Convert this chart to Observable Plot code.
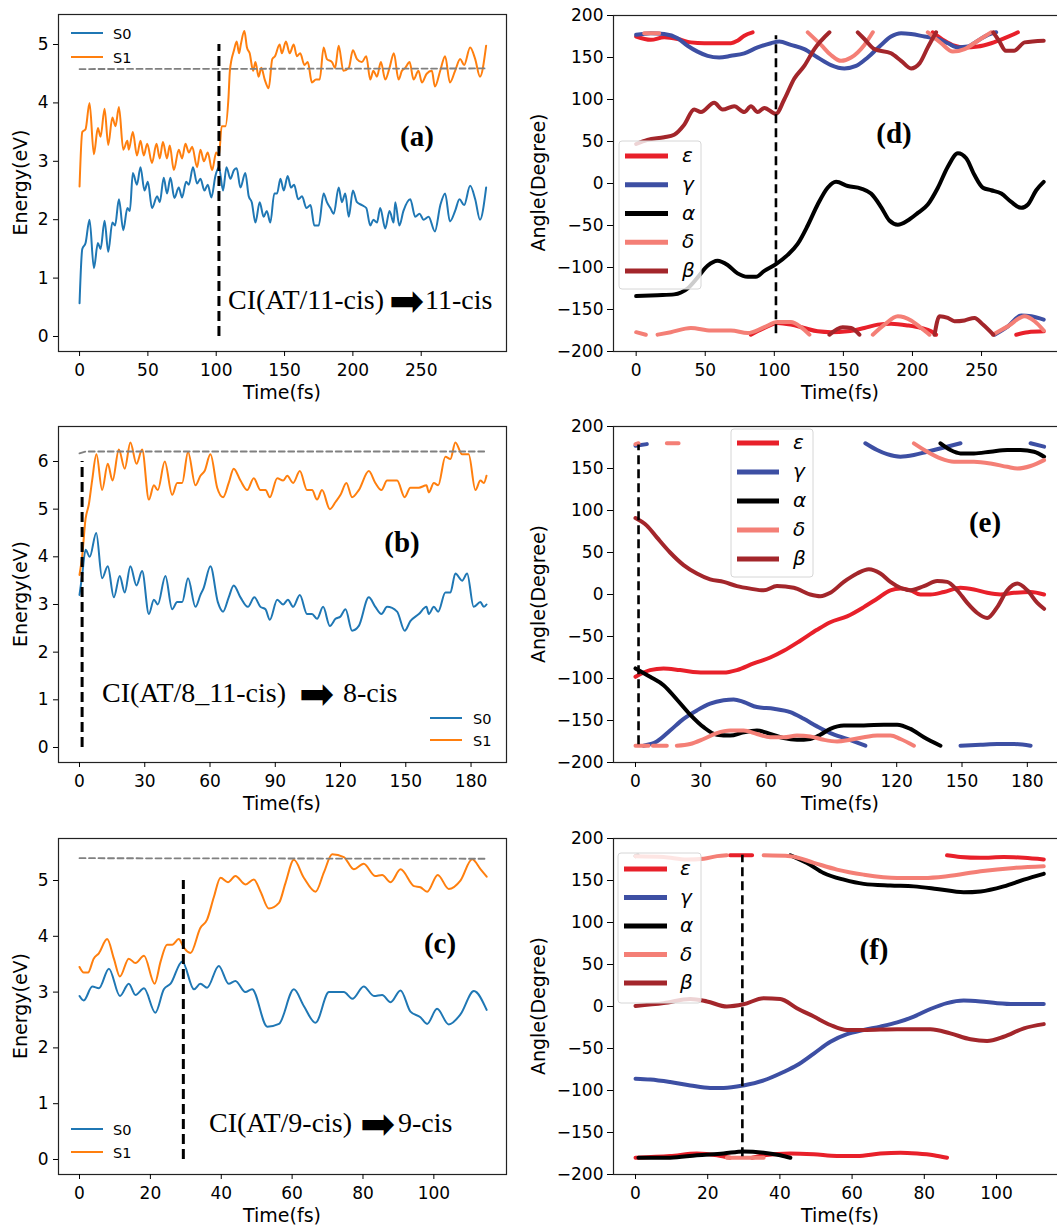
<!DOCTYPE html>
<html><head><meta charset="utf-8">
<script src="https://cdn.jsdelivr.net/npm/d3@7"></script>
<script src="https://cdn.jsdelivr.net/npm/@observablehq/plot@0.6"></script>
<style>
html,body{margin:0;padding:0;background:#fff;overflow:hidden}
#page{position:relative;width:1057px;height:1225px;overflow:hidden;background:#fff}
</style></head><body><div id="page"></div>
<script>
// ---------------- Energy panels: (a) ----------------
const aT1 = [0,2,4.4,7.3,10.5,13.4,15.4,18.3,21,24,26.3,28.8,32,35,36,39,42,44.6,47,49.5,53,56.3,58.7,61,64,66,69,72.6,75,77.5,80,82.4,86,88.5,91,93.8,97,100,102,104,106.7,109,110,113,115,116.7,118,120.6,122.5,124.5,127,128.7,131,133,135.5,138.4,141,143,146.4,148,151,153.8,156.7,159,161.5,164.5,167,170,173,175.7,178.6,181,184.7,187,189.6,193,197,200,203,206.6,209.8,212.7,215,217.6,220.5,223.7,226.8,230,233.4,235.9,238.3,241.5,244.4,248,250.5,254,257.8,260,263.9,267.5,271,274.8,278.5,281.4,285.8,289.5,293,297.5];
const aS1 = [2.57,3.5,3.55,4.0,3.12,3.57,3.42,3.9,3.28,3.75,3.6,3.93,3.2,3.35,3.2,3.5,3.1,3.35,3.1,3.3,2.97,3.3,3.05,3.33,3.05,3.27,2.85,3.2,3.05,3.3,3.15,3.25,2.9,3.2,3.0,3.15,2.85,3.15,3.1,3.6,3.6,4.1,4.55,4.9,5.05,4.85,5.0,5.23,4.95,4.85,4.55,4.7,4.45,4.6,4.4,4.25,4.75,4.8,5.0,4.85,5.05,4.85,5.0,4.8,4.85,4.65,4.7,4.35,4.4,4.4,4.95,4.75,4.7,4.6,4.98,4.55,4.6,4.9,4.75,4.7,4.8,4.4,4.55,4.45,4.7,4.4,4.6,4.85,4.4,4.55,4.6,4.7,4.4,4.55,4.35,4.5,4.55,4.28,4.55,4.8,4.35,4.55,4.75,4.65,4.95,4.75,4.45,4.98];
const aT0 = [0,2,4.4,7.3,10.5,13.4,15.4,18.3,21,24,26,28.8,32,35,36.8,39,42,44.6,47.5,50,53,56.8,58.7,61.6,64,66.5,69.4,72.6,75,78,80,83,86,88.5,91.4,93.8,96.5,99.4,102,105,107.5,110.4,113,115,117.7,121.3,123.8,126,128.7,131.8,134.7,137,139.6,142.5,144.5,147,149.4,152.3,154.7,157,160,162.8,166,169,171.8,175,178.6,181,183.5,186,189.6,192,194.4,197,200,203,206.6,209.8,212.7,215,217.6,220,223.7,226.8,229.8,231,234,237,242,245.6,248.8,251.7,255.4,260,264,267.5,271,274.8,278,281.4,285.8,289.5,293,297.5];
const aS0 = [0.57,1.5,1.6,2.0,1.17,1.6,1.5,1.98,1.45,1.95,1.9,2.35,1.82,2.2,2.15,2.8,2.6,2.9,2.5,2.65,2.2,2.4,2.3,2.72,2.45,2.72,2.37,2.55,2.38,2.65,2.6,2.9,2.62,2.7,2.5,2.6,2.38,2.75,2.9,2.5,2.9,2.7,2.85,2.88,2.55,2.8,2.4,2.3,1.95,2.3,2.05,2.15,1.95,2.45,2.45,2.7,2.5,2.75,2.55,2.6,2.35,2.4,2.2,2.25,1.9,1.9,2.45,2.3,2.2,2.1,2.55,2.3,2.45,2.05,2.5,2.3,2.25,2.2,1.9,2.0,1.95,2.2,1.85,2.15,1.95,2.3,1.9,2.15,2.35,2.05,2.1,2.0,2.05,1.8,2.25,2.45,1.97,2.15,2.35,2.25,2.58,2.35,2.0,2.55];
const aRef = [[0,4.58],[297.5,4.59]];
const aCI = [102, 0, 5.0];           // time, bottom, top
const aXTicks = [0,50,100,150,200,250];
const aYTicks = [0,1,2,3,4,5];

// ---------------- (b) ----------------
const bT1 = [0,1.2,2.8,4.3,5.8,7.8,10.4,13,15.2,18.1,20.8,23.4,26.2,28.8,31.9,34.2,36,39.2,42.6,44.9,47.2,49.9,53.3,55.6,57.5,60.2,63.3,66,68.6,70.9,74,77.1,80.1,83.2,85.5,87.5,90.9,93.6,95.5,98.2,101.3,104.6,106.9,109.2,111.5,115.1,117.7,120,122.7,125.3,128.4,133,136,138.8,141.4,146,149.5,152.1,156,159.5,160.6,162.9,164.9,168.2,170.5,172.8,175.9,178.9,182,184.3,185.9,187.1];
const bS1 = [3.62,4.0,4.8,5.1,5.6,6.15,5.4,5.95,5.6,6.25,5.85,6.4,5.95,6.25,5.2,5.5,5.4,6.0,5.3,5.55,5.55,6.2,5.5,5.7,5.8,6.15,5.45,5.25,5.55,5.85,5.6,5.4,5.65,5.4,5.4,5.25,5.65,5.6,5.7,5.55,5.8,5.4,5.4,5.2,5.4,5.0,5.15,5.3,5.55,5.25,5.4,5.8,5.55,5.4,5.6,5.6,5.25,5.45,5.45,5.5,5.35,5.55,5.5,6.1,6.05,6.4,6.15,6.15,5.4,5.6,5.55,5.7];
const bT0 = [0,1.2,2.8,4.7,7.7,10.4,13,15.8,18.5,20.8,23.4,26.2,28.8,31.9,34.2,36,39.5,42.6,44.9,47.2,49.9,53.3,55.6,57.1,60.2,63.6,66,68.6,70.9,74,77.4,80.4,83.2,85.5,87.5,90.9,93.6,95.8,98.2,101.3,104.6,106.9,109.2,112,115.1,117.7,120,122.3,125.3,128.4,133,136,138.8,141.4,146,149.5,152.1,156,159.5,160.6,162.9,164.9,168.2,170.5,172.8,175.9,178.2,181.2,184.3,185.9,187.1];
const bS0 = [3.2,3.6,4.15,4.0,4.5,3.55,3.8,3.15,3.6,3.25,3.8,3.4,3.7,2.8,3.1,3.0,3.6,2.9,3.05,3.05,3.55,2.95,3.2,3.35,3.8,3.05,2.85,3.15,3.4,3.15,2.95,3.15,2.95,2.9,2.68,3.1,3.0,3.1,2.95,3.2,2.8,2.8,2.7,2.95,2.55,2.7,2.75,2.9,2.45,2.55,3.15,2.95,2.8,2.95,2.85,2.45,2.65,2.8,2.95,2.8,2.95,2.85,3.25,3.25,3.65,3.5,3.65,2.95,3.05,2.95,3.0];
const bRef = [[0,6.17],[3,6.21],[187.1,6.21]];
const bCI = [1.2, 0, 6.0];
const bXTicks = [0,30,60,90,120,150,180];
const bYTicks = [0,1,2,3,4,5,6];

// ---------------- (c) ----------------
const cT1 = [0,1.2,2.4,4,5.5,7.8,9.7,11.4,13.9,15.8,18.2,21.2,22.9,24.7,26.2,28,29.4,31.3,34.1,36,37.9,39.8,41.9,44,46.8,49.2,51.1,53.4,56.3,58.1,60.5,63.3,66.6,69,71.3,74.6,77.4,80.2,83.5,85.4,87.8,90.6,94.4,96.2,98.1,101.1,104.2,107.5,110.8,113.2,114.9];
const cS1 = [3.45,3.35,3.35,3.6,3.7,3.95,3.6,3.28,3.6,3.52,3.65,3.15,3.55,3.85,3.85,3.95,3.8,3.7,4.15,4.3,4.7,5.05,4.97,5.08,4.93,5.02,4.8,4.5,4.6,4.95,5.37,5.05,4.8,5.15,5.47,5.42,5.2,5.3,5.08,5.1,4.97,5.2,4.9,4.88,4.8,5.1,4.85,5.0,5.38,5.2,5.07];
const cT0 = [0,1.2,3.6,5.5,8.3,11.4,13.9,15.8,18.2,21.4,23.8,25.7,29,32.3,34.1,36,39.3,42.1,44,46.8,48.7,53,56.3,60.5,63.3,66.6,70.4,74.6,77,80.2,83.1,85.4,87.8,90.6,93.4,96.2,98.1,100.9,104.2,107.5,111.3,114.9];
const cS0 = [2.93,2.85,3.1,3.07,3.42,2.93,3.15,2.95,3.07,2.63,3.05,3.15,3.55,3.05,3.15,3.08,3.47,3.15,3.2,3.0,3.05,2.38,2.43,3.05,2.75,2.45,3.0,3.0,2.88,3.1,2.93,2.95,2.82,3.03,2.65,2.55,2.43,2.7,2.42,2.6,3.02,2.68];
const cRef = [[0,5.40],[114.9,5.39]];
const cCI = [29.3, 0, 5.0];
const cXTicks = [0,20,40,60,80,100];
const cYTicks = [0,1,2,3,4,5];

// ---------------- Angle panels: (d) ----------------  [time, degree], null = break
const dEps = [[0,175],[10.6,171],[20.3,174],[30,172],[39.6,168],[49.3,167],[58.9,167],[68.6,167],[73.4,170],[78.3,176],[84.3,180],null,[83,-180],[92.8,-172],[102.4,-166],[112,-168],[121.7,-172],[131.4,-176],[141,-177],[153,-176],[165.2,-172],[174.9,-168],[184.5,-167],[196.6,-169],[206.3,-172],[213.5,-176],[217.1,-180],null,[214.7,180],[223.2,170],[230.4,164],[237.7,162],[247.3,163],[257,167],[266.7,173],[276.3,180],null,[275.1,-180],[283.6,-177],[295,-176]];
const dGam = [[0,177],[10.6,179],[20.3,178],[30,173],[37.2,164],[44.4,157],[51.7,152],[60.1,150],[68.6,152],[78.3,155],[87.9,162],[97.6,167],[103.6,169],[112,165],[121.7,160],[131.4,150],[141,141],[150.7,137],[159.2,140],[167.6,150],[177.3,165],[184.5,175],[191.8,179],[199,178],[208.7,175],[218.4,172],[225.6,167],[232.9,162],[240.1,163],[247.3,170],[254.6,177],[260.6,180],null,[259.4,-180],[269.1,-170],[278.7,-157],[286,-158],[295,-162]];
const dAlp = [[0,-134],[15.5,-133],[27.5,-132],[37.2,-125],[44.4,-112],[51.7,-98],[58.9,-92],[66.2,-97],[73.4,-107],[80.7,-111],[86.7,-111],[92.8,-104],[101.2,-96],[109.7,-85],[116.9,-72],[124.2,-50],[131.4,-25],[138.6,-5],[144.7,2],[153.1,-3],[162.8,-6],[170,-12],[177.3,-28],[183.3,-44],[189.4,-49],[196.6,-44],[203.9,-35],[211.1,-25],[218.4,-5],[225.6,20],[232.9,36],[238.9,30],[244.9,10],[251,-5],[257,-8],[264.3,-12],[271.5,-22],[278.7,-29],[283.6,-25],[289.6,-8],[295,2]];
const dDel = [[0,-177],[7,-180],null,[5.8,179],[16.7,179],null,[15.5,-180],[25.1,-177],[39.6,-172],[54.1,-175],[68.6,-175],[80.7,-178],[92.8,-171],[102.4,-165],[112,-165],[119.3,-171],[125.4,-180],null,[124.2,180],[133.8,165],[141,153],[148.3,146],[155.6,150],[165.2,165],[171.3,180],null,[171.3,-180],[179.7,-168],[189.4,-158],[199,-163],[206.3,-172],[212.3,-180],null,[211.1,180],[220.8,167],[229.2,157],[237.7,160],[247.3,170],[257,180],null,[258.2,-180],[269.1,-170],[281.2,-158],[288.4,-164],[295,-175]];
const dBet = [[0,47],[8.2,52],[20.3,55],[27.5,58],[34.8,70],[42,88],[46.9,85],[56.5,96],[62.6,88],[71,92],[78.3,85],[83.1,92],[87.9,85],[92.8,90],[101.2,83],[107.2,100],[114.5,125],[121.7,140],[129,160],[139.9,180],null,[139.9,-180],[149.5,-171],[155.6,-172],[161.6,-180],null,[160.4,180],[165.2,172],[172.5,160],[184.5,155],[191.8,146],[199,137],[205.1,143],[211.1,162],[217.1,180],null,[216,-180],[219.6,-158],[225.6,-160],[230.4,-164],[237.7,-163],[244.9,-160],[251,-168],[258.5,-180],null,[258.5,180],[262.6,170],[267.6,158],[273.6,158],[281.2,168],[295,170]];
const dCI = [101.2, -179, 176];
const dXTicks = [0,50,100,150,200,250];

// ---------------- (e) ----------------
const eEps = [[0,-98],[6.7,-90],[12.9,-88],[20.5,-90],[31.3,-93],[40.5,-93],[46.6,-90],[54.3,-82],[61.9,-75],[68.1,-67],[75.7,-55],[83.4,-42],[89.5,-33],[97.2,-26],[104.9,-15],[111,-5],[117.1,5],[121.7,7],[126.3,5],[130.9,0],[135.5,0],[141.7,3],[149.3,8],[155.5,6],[161.6,2],[167.7,0],[173.9,2],[181.5,3],[187.7,0]];
const eGam = [[0,177],[5.2,179],null,[3.7,-180],[9.8,-175],[15.9,-162],[22.1,-148],[28.2,-138],[34.3,-130],[40.5,-126],[45.1,-125],[49.7,-128],[55.8,-134],[63.5,-136],[71.1,-140],[77.3,-148],[83.4,-157],[89.5,-165],[97.2,-172],[105.6,-180],null,[105.6,180],[111,172],[115.6,167],[121.7,164],[127.9,166],[134,170],[141.7,175],[149.3,180],null,[149.3,-180],[158.5,-179],[166.2,-178],[173.9,-178],[181.5,-180],null,[181.5,180],[187.7,176]];
const eAlp = [[0,-88],[6.7,-98],[12.9,-108],[19,-125],[25.1,-143],[31.3,-158],[37.4,-167],[43.5,-168],[49.7,-164],[55.8,-162],[61.9,-166],[68.1,-171],[74.2,-173],[80.3,-172],[84.9,-167],[89.5,-160],[95.7,-156],[104.9,-156],[114.1,-155],[120.2,-155],[126.3,-160],[132.5,-170],[140.1,-180],null,[140.1,180],[144.7,172],[149.3,168],[155.5,168],[163.1,170],[170.8,172],[176.9,172],[183.1,170],[187.7,164]];
const eDel = [[0,179],[1.4,180],null,[0,-180],[6,-180],null,[8,-180],[14.4,-180],null,[14.4,180],[19.8,180],null,[19,-180],[25.1,-178],[31.3,-172],[37.4,-165],[43.5,-162],[49.7,-162],[55.8,-166],[61.9,-170],[68.1,-170],[74.2,-168],[80.3,-169],[86.5,-173],[92.6,-175],[98.7,-173],[104.9,-170],[111,-168],[117.1,-168],[121.7,-172],[127.9,-180],null,[127.9,180],[134,170],[140.1,162],[146.3,158],[155.5,158],[163.1,156],[170.8,152],[175.4,150],[181.5,153],[187.7,160]];
const eBet = [[0,91],[5.2,82],[9.8,68],[15.9,50],[22.1,35],[28.2,25],[34.3,18],[40.5,15],[46.6,10],[52.7,7],[58.9,5],[65,10],[72.7,8],[80.3,0],[84.9,-2],[89.5,2],[95.7,15],[101.8,25],[107.2,30],[112.5,25],[117.1,15],[121.7,8],[126.3,5],[132.5,10],[138.6,16],[143.2,15],[147.8,5],[152.4,-10],[157,-22],[161.6,-28],[166.2,-15],[170.8,5],[175.4,13],[180,5],[184.6,-10],[187.7,-17]];
const eCI = [1.4, -179, 178];
const eXTicks = [0,30,60,90,120,150,180];

// ---------------- (f) ----------------
const fEps = [[0,-180],[9.6,-178],[17,-175],[22.6,-177],[26.2,-180],null,[26.2,180],[32.3,180],null,[32.3,-180],[35.5,-177],[42.9,-175],[49.4,-176],[55.8,-178],[61.4,-178],[67.8,-175],[73.4,-174],[78,-175],[82.6,-177],[86.3,-180],null,[86.3,180],[90,178],[95.6,177],[102,178],[107.6,177],[113.1,175]];
const fGam = [[0,-86],[4.1,-87],[9.6,-90],[15.2,-94],[20.7,-97],[24.4,-97],[29.9,-94],[35.5,-88],[41,-78],[44.7,-70],[49.4,-56],[54,-42],[58.6,-33],[63.2,-28],[67.8,-24],[72.5,-19],[77.1,-12],[81.7,-3],[86.3,4],[90.9,7],[95.6,6],[100.2,4],[104.8,3],[113.1,3]];
const fAlp = [[0,179],[0.6,180],null,[0.8,-180],[9.6,-180],[17,-177],[24.4,-175],[29.9,-172.5],[35.5,-174],[40.1,-177],[42.9,-180],null,[42.9,180],[47.5,171],[52.1,159],[57.7,151],[63.2,146],[70.6,144],[77.1,143],[83.5,140],[90.9,136],[95.6,137],[102,143],[107.6,151],[113.1,158]];
const fDel = [[0,179],[7.8,178],[14.2,175],[18.9,176],[22.6,179],[25.3,180],null,[25.3,-180],[35.5,-180],null,[35.5,180],[42.9,179],[49.4,171],[55.8,163],[63.2,157],[72.5,153],[79.9,153],[86.3,155],[95.6,161],[104.8,165],[113.1,167]];
const fBet = [[0,0.6],[7.8,4],[15.2,9],[19.8,6],[25.3,0],[29.9,2.6],[35.5,9.8],[40.1,9],[44.7,-2],[49.4,-12],[54,-22],[58.6,-28],[63.2,-28],[72.5,-27],[81.7,-27],[87.2,-32],[92.8,-39],[97.4,-41],[102,-36],[107.6,-26],[113.1,-21]];
const fCI = [29.6, -179, 180];
const fXTicks = [0,20,40,60,80,100];

const angYTicks = [-200,-150,-100,-50,0,50,100,150,200];
const angNames = ["ε","γ","α","δ","β"];
const angColors = ["#e8202a","#3d4fa3","#000000","#f47f76","#a3262b"];
const energyNames = ["S0","S1"];
const energyColors = ["#1f77b4","#ff7f0e"];

// ---------------- drawing ----------------
const page = document.getElementById("page");
const fmt = d => d < 0 ? "\u2212" + Math.abs(d) : String(d);
const rows = (T, V) => T.map((t, i) => ({t, v: V[i]}));
const segRows = P => P.map(p => p ? {t: p[0], v: p[1]} : {t: NaN, v: NaN});

function panel(o) {
  const svg = Plot.plot({
    width: o.width, height: o.height,
    marginTop: o.mt, marginBottom: o.mb, marginLeft: o.ml, marginRight: o.mr,
    x: {domain: o.xdom}, y: {domain: o.ydom},
    style: {fontFamily: "'DejaVu Sans', sans-serif", fontSize: "17px", color: "#000", background: "transparent", overflow: "visible"},
    marks: [
      ...o.marks,
      Plot.frame({stroke: "#222", strokeWidth: 1.2}),
      Plot.axisX({ticks: o.xticks, tickSize: 5, tickPadding: 7, tickFormat: fmt, label: null}),
      Plot.axisY({ticks: o.yticks, tickSize: o.ytick, tickPadding: o.ypad, tickFormat: fmt, label: null})
    ]
  });
  svg.style.position = "absolute";
  svg.style.left = o.left + "px";
  svg.style.top = o.top + "px";
  page.appendChild(svg);
}

function energyMarks(T0, S0, T1, S1, ref, ci) {
  return [
    Plot.line(rows(T0, S0), {x: "t", y: "v", stroke: energyColors[0], strokeWidth: 2, curve: "monotone-x"}),
    Plot.line(rows(T1, S1), {x: "t", y: "v", stroke: energyColors[1], strokeWidth: 2, curve: "monotone-x"}),
    Plot.line(segRows(ref), {x: "t", y: "v", stroke: "#808080", strokeWidth: 1.8, strokeDasharray: "6,3.5"}),
    Plot.ruleX([ci[0]], {y1: ci[1], y2: ci[2], stroke: "#000", strokeWidth: 3, strokeDasharray: "10,5"})
  ];
}
function angleMarks(series, ci) {
  return [
    ...series.map((s, i) => Plot.line(segRows(s), {x: "t", y: "v", stroke: angColors[i], strokeWidth: 4, curve: "monotone-x"})),
    Plot.ruleX([ci[0]], {y1: ci[1], y2: ci[2], stroke: "#000", strokeWidth: 2.6, strokeDasharray: "9,5"})
  ];
}

// left column
panel({left: 0, top: 0, width: 518, height: 391, mt: 14, mb: 40, ml: 58, mr: 12,
  xdom: [-15.4, 312.4], ydom: [-0.257, 5.514], xticks: aXTicks, yticks: aYTicks, ytick: 5, ypad: 5,
  marks: energyMarks(aT0, aS0, aT1, aS1, aRef, aCI)});
panel({left: 0, top: 400, width: 518, height: 394, mt: 26, mb: 32, ml: 58, mr: 12,
  xdom: [-9.65, 196.3], ydom: [-0.315, 6.734], xticks: bXTicks, yticks: bYTicks, ytick: 5, ypad: 5,
  marks: energyMarks(bT0, bS0, bT1, bS1, bRef, bCI)});
panel({left: 0, top: 810, width: 518, height: 404, mt: 28, mb: 40, ml: 58, mr: 12,
  xdom: [-5.93, 120.5], ydom: [-0.269, 5.753], xticks: cXTicks, yticks: cYTicks, ytick: 5, ypad: 5,
  marks: energyMarks(cT0, cS0, cT1, cS1, cRef, cCI)});

// right column
panel({left: 530, top: 0, width: 546, height: 391, mt: 15, mb: 40, ml: 83, mr: 10,
  xdom: [-16.4, 311.5], ydom: [-200, 200], xticks: dXTicks, yticks: angYTicks, ytick: 6, ypad: 4,
  marks: angleMarks([dEps, dGam, dAlp, dDel, dBet], dCI)});
panel({left: 530, top: 400, width: 546, height: 394, mt: 26, mb: 32, ml: 83, mr: 10,
  xdom: [-10.1, 198], ydom: [-200, 200], xticks: eXTicks, yticks: angYTicks, ytick: 6, ypad: 4,
  marks: angleMarks([eEps, eGam, eAlp, eDel, eBet], eCI)});
panel({left: 530, top: 810, width: 546, height: 404, mt: 28, mb: 40, ml: 83, mr: 10,
  xdom: [-6.1, 119.4], ydom: [-200, 200], xticks: fXTicks, yticks: angYTicks, ytick: 6, ypad: 4,
  marks: angleMarks([fEps, fGam, fAlp, fDel, fBet], fCI)});

// ---------------- text overlay: labels, annotations, legends ----------------
const ov = d3.select(page).append("svg")
  .attr("width", 1057).attr("height", 1225)
  .style("position", "absolute").style("left", "0px").style("top", "0px");

const sans = "'DejaVu Sans', sans-serif", serif = "'Liberation Serif', 'Times New Roman', serif";
const frameMid = [182.5, 594, 1006];
const frameBottom = [351, 762, 1174];
frameMid.forEach(cy => {
  ov.append("text").attr("transform", `translate(27,${cy}) rotate(-90)`).attr("text-anchor", "middle")
    .attr("font-family", sans).attr("font-size", 19).text("Energy(eV)");
  ov.append("text").attr("transform", `translate(545,${cy}) rotate(-90)`).attr("text-anchor", "middle")
    .attr("font-family", sans).attr("font-size", 19).text("Angle(Degree)");
});
frameBottom.forEach(fb => {
  [282, 840].forEach(cx => ov.append("text").attr("x", cx).attr("y", fb + 48).attr("text-anchor", "middle")
    .attr("font-family", sans).attr("font-size", 19).text("Time(fs)"));
});

// panel tags
const tags = [["(a)",417,146],["(b)",402,552],["(c)",440,953],["(d)",894,143],["(e)",985,532],["(f)",874,959]];
tags.forEach(([s, x, y]) => ov.append("text").attr("x", x).attr("y", y).attr("text-anchor", "middle")
  .attr("font-family", serif).attr("font-weight", "bold").attr("font-size", 29).text(s));

// CI annotations: [source, target, x start, baseline, arrow x, target x]
const ciNotes = [["CI(AT/11-cis)","11-cis",228,309,389,425],["CI(AT/8_11-cis)","8-cis",102,702,299,343],["CI(AT/9-cis)","9-cis",209,1132,360,398]];
ciNotes.forEach(([src, dst, x, y, ax, tx]) => {
  ov.append("text").attr("x", x).attr("y", y).attr("font-family", serif).attr("font-size", 28).text(src);
  ov.append("text").attr("transform", `translate(${ax},${y + 7}) scale(1.0,1.05)`).attr("font-family", sans)
    .attr("font-size", 42).text("\u27A1");
  ov.append("text").attr("x", tx).attr("y", y).attr("font-family", serif).attr("font-size", 28).text(dst);
});

// energy legends: [line x1, line x2, y S0, y S1, text x]
const eLeg = [[71,103,33,57,113],[430,462,718,740,473],[71,103,1129,1152,113]];
eLeg.forEach(([x1, x2, y0, y1, tx]) => {
  [y0, y1].forEach((y, i) => {
    ov.append("line").attr("x1", x1).attr("x2", x2).attr("y1", y).attr("y2", y)
      .attr("stroke", energyColors[i]).attr("stroke-width", 2);
    ov.append("text").attr("x", tx).attr("y", y + 5.5).attr("font-family", sans).attr("font-size", 14.5).text(energyNames[i]);
  });
});

// angle legends: [box x, box y, box w, box h, first entry y, step, line x1, line x2, text x]
const aLeg = [[619,141,82,148,156,28.75,625,668,682],[731,429,82,148,443,29,737,779,793],[618,853,83,150,869,28.5,624,667,680]];
aLeg.forEach(([bx, by, bw, bh, ey, st, x1, x2, tx]) => {
  ov.append("rect").attr("x", bx).attr("y", by).attr("width", bw).attr("height", bh).attr("rx", 3)
    .attr("fill", "#fff").attr("fill-opacity", 0.8).attr("stroke", "#d6d6d6").attr("stroke-width", 1);
  angNames.forEach((n, i) => {
    const y = ey + i * st;
    ov.append("line").attr("x1", x1).attr("x2", x2).attr("y1", y).attr("y2", y)
      .attr("stroke", angColors[i]).attr("stroke-width", 5);
    ov.append("text").attr("x", tx).attr("y", y + 6).attr("font-family", sans).attr("font-style", "italic")
      .attr("font-size", 20).text(n);
  });
});
</script>
</body></html>
